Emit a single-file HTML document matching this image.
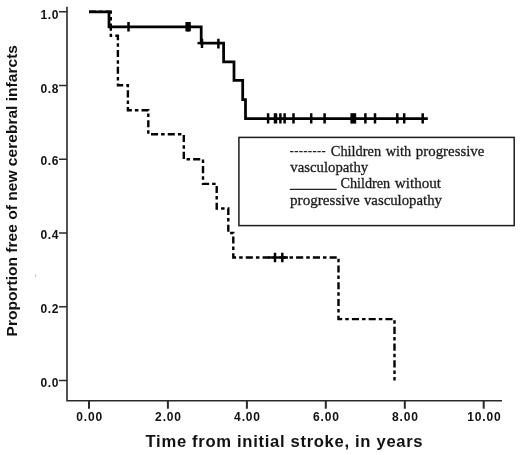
<!DOCTYPE html>
<html><head><meta charset="utf-8">
<style>
html,body{margin:0;padding:0;background:#fff;}
body{width:520px;height:455px;overflow:hidden;position:relative;}
svg{position:absolute;left:0;top:0;will-change:transform;}
.ax{font-family:"Liberation Sans",sans-serif;font-weight:bold;fill:#111;}
.lg{font-family:"Liberation Serif",serif;fill:#1a1a1a;font-size:15.6px;stroke:#1a1a1a;stroke-width:0.3px;}
</style></head>
<body>
<svg width="520" height="455" viewBox="0 0 520 455">
  <!-- axes -->
  <g stroke="#2a2a2a" stroke-width="1.6" fill="none">
    <path d="M67 6.8 V400.8 H502"/>
    <path d="M59 11.7 H67 M59 85.5 H67 M59 159.2 H67 M59 233 H67 M59 306.8 H67 M59 380.5 H67"/>
    <path d="M89 400.5 V408.7 M167.9 400.5 V408.7 M246.9 400.5 V408.7 M325.8 400.5 V408.7 M404.8 400.5 V408.7 M483.7 400.5 V408.7" stroke-width="2"/>
  </g>
  <!-- y labels -->
  <g class="ax" font-size="12" text-anchor="end" letter-spacing="0.6">
    <text x="59" y="18.7">1.0</text>
    <text x="59" y="92.5">0.8</text>
    <text x="59" y="165.4">0.6</text>
    <text x="59" y="239.1">0.4</text>
    <text x="59" y="312.9">0.2</text>
    <text x="59" y="386.7">0.0</text>
  </g>
  <!-- x labels -->
  <g class="ax" font-size="12" text-anchor="middle" letter-spacing="0.85">
    <text x="89.6" y="420.6">0.00</text>
    <text x="168.5" y="420.6">2.00</text>
    <text x="247.5" y="420.6">4.00</text>
    <text x="326.4" y="420.6">6.00</text>
    <text x="405.4" y="420.6">8.00</text>
    <text x="484.3" y="420.6">10.00</text>
  </g>
  <!-- axis titles -->
  <text class="ax" x="145.6" y="447" font-size="16.6" textLength="277" lengthAdjust="spacing">Time from initial stroke, in years</text>
  <text class="ax" transform="translate(17.4 336.5) rotate(-90)" x="0" y="0" font-size="15.3" textLength="291.5" lengthAdjust="spacingAndGlyphs">Proportion free of new cerebral infarcts</text>

  <path d="M35.6 274.2 V277" stroke="#c4c4c4" stroke-width="1"/>
  <!-- dashed curve -->
  <path d="M89 11.8 H110.8 V35.8 H117.9 V85.3 H127.9 V110.2 H148.3 V134.3 H183.8 V159.2 H203 V183.9 H216.7 V208.5 H228.3 V233 H233.3 V257.5 H338.5 V319.1 H394.5 V380.5" fill="none" stroke="#000" stroke-width="2.4" stroke-dasharray="7.1 3.05 3.5 3.12"/>
  <g stroke="#000" stroke-width="2.5">
    <path d="M275 252.7 V262.3 M282.3 252.7 V262.3"/>
  </g>
  <path d="M268 257.5 H288" stroke="#000" stroke-width="2.4"/>

  <!-- solid curve -->
  <path d="M89 11.8 H109 V26.8 H201.2 V43.1 H223.6 V61.8 H234 V80.4 H242.7 V99.6 H245.5 V118.5 H427.8" fill="none" stroke="#000" stroke-width="2.75"/>
  <g stroke="#000" stroke-width="2.5">
    <path d="M128.5 22.1 V31.4 M188.1 22 V31.4"/>
    <path d="M202 38.8 V48 M218.4 38.8 V48.4"/>
    <path d="M188.1 22 V31.4" stroke-width="5.4"/>
    <path d="M353.3 113.2 V123.6" stroke-width="5.8"/>
    <path d="M197.5 43.1 H201" stroke-width="2.4"/>
    <path d="M268.1 113.2 V123.6 M275 113.2 V123.6 M276 113.2 V123.6 M280.4 113.2 V123.6 M284.6 113.2 V123.6 M293.5 113.2 V123.6 M311.2 113.2 V123.6 M324.6 113.2 V123.6 M365.4 113.2 V123.6 M375 113.2 V123.6 M397.3 113.2 V123.6 M404.2 113.2 V123.6 M422.7 113.2 V123.6"/>
  </g>

  <!-- legend -->
  <rect x="238.9" y="137.4" width="275.3" height="88.2" fill="#fff" stroke="#1a1a1a" stroke-width="1.5"/>
  <path d="M290.1 151.6 H326.5" stroke="#222" stroke-width="1.45" stroke-dasharray="3.4 1.15"/>
  <path d="M289.8 189.4 H336.7" stroke="#222" stroke-width="1.4"/>
  <!--LEGEND-->
  <text class="lg" x="330.80" y="155.6" textLength="50.40" lengthAdjust="spacingAndGlyphs">Children</text>
  <text class="lg" x="385.80" y="155.6" textLength="25.40" lengthAdjust="spacingAndGlyphs">with</text>
  <text class="lg" x="415.85" y="155.6" textLength="68.55" lengthAdjust="spacingAndGlyphs">progressive</text>
  <text class="lg" x="290.3" y="171.6" textLength="77.9" lengthAdjust="spacingAndGlyphs">vasculopathy</text>
  <text class="lg" x="340.40" y="188.4" textLength="49.80" lengthAdjust="spacingAndGlyphs">Children</text>
  <text class="lg" x="394.80" y="188.4" textLength="46.25" lengthAdjust="spacingAndGlyphs">without</text>
  <text class="lg" x="290.05" y="205.2" textLength="69.75" lengthAdjust="spacingAndGlyphs">progressive</text>
  <text class="lg" x="363.95" y="205.2" textLength="78.05" lengthAdjust="spacingAndGlyphs">vasculopathy</text>
<!--/LEGEND-->
</svg>
</body></html>
